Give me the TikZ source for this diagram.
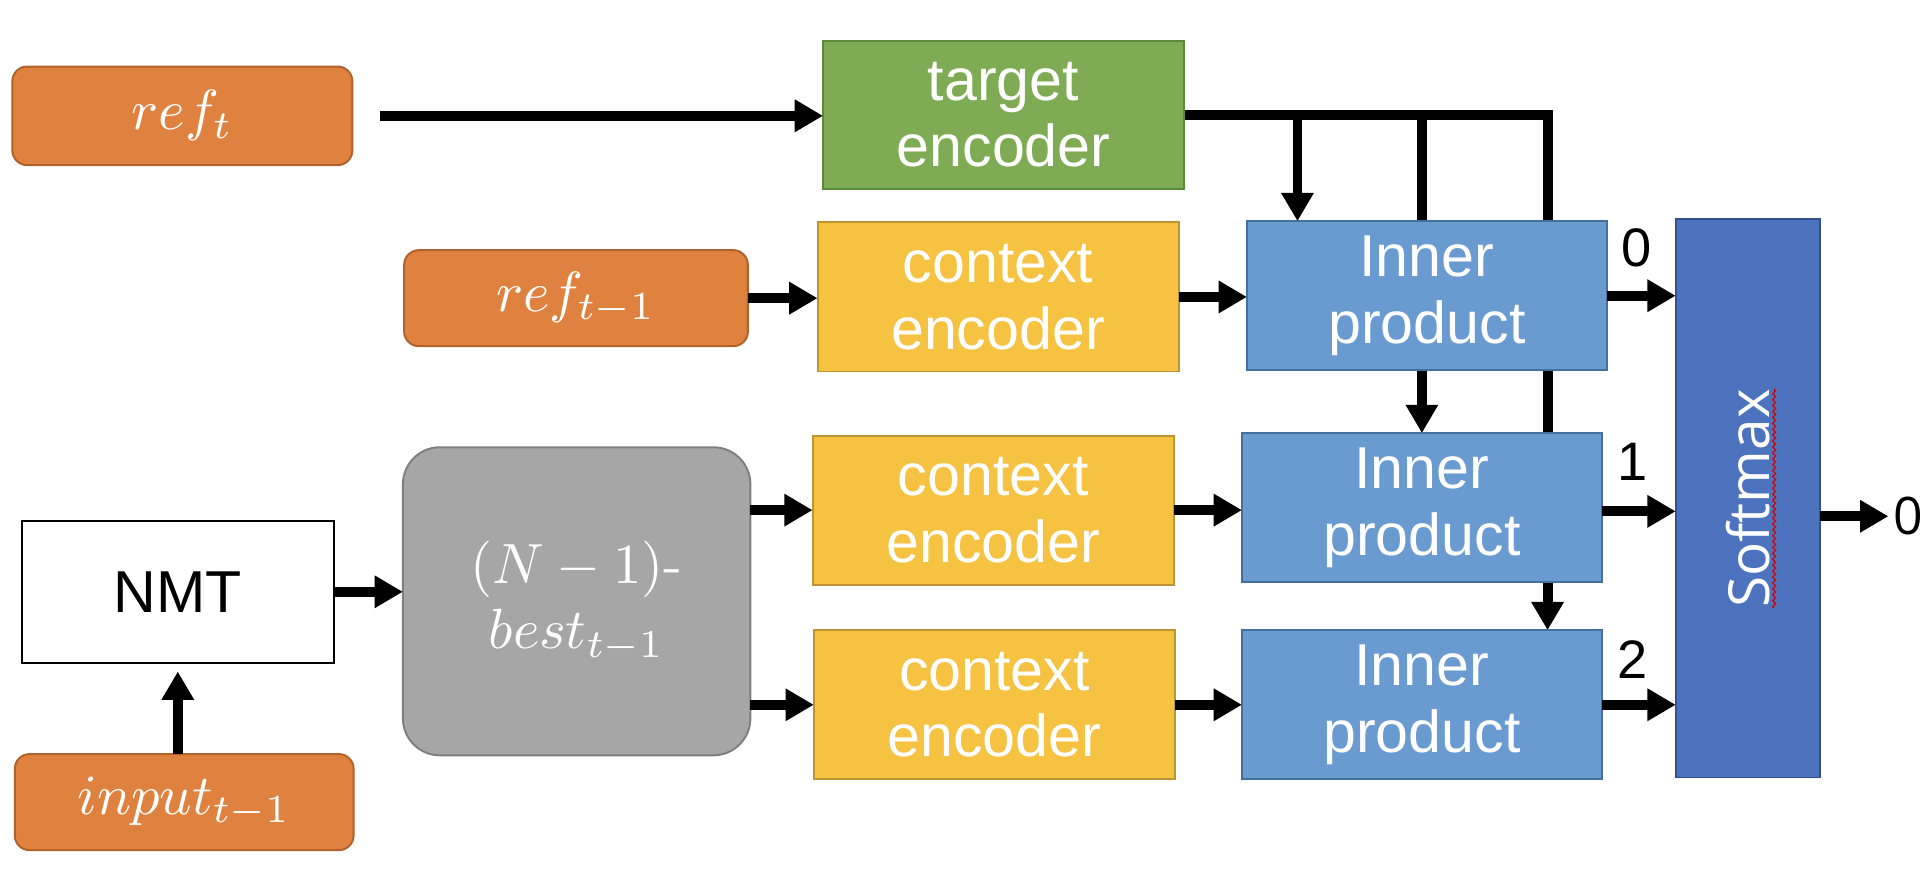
\documentclass[tikz,border=0pt]{standalone}
\usepackage{graphicx}
\usepackage{fontspec}
\newfontfamily\boxfont{Liberation Sans}
\newfontfamily\smfont{Open Sans}
\usetikzlibrary{arrows.meta,decorations.pathmorphing}
\pgfdeclarelayer{bg}
\pgfsetlayers{bg,main}
\definecolor{ora}{HTML}{E0823F}
\definecolor{orad}{HTML}{B0622A}
\definecolor{grn}{HTML}{7FAB55}
\definecolor{grnd}{HTML}{5B8B3A}
\definecolor{ylw}{HTML}{F5C242}
\definecolor{ylwd}{HTML}{BC9432}
\definecolor{lbl}{HTML}{6A9BD0}
\definecolor{lbld}{HTML}{45709E}
\definecolor{smb}{HTML}{4D73BE}
\definecolor{smbd}{HTML}{2F528F}
\definecolor{gry}{HTML}{A6A6A6}
\definecolor{gryd}{HTML}{7F7F7F}
\newcommand{\mybigmath}[1]{\scalebox{2.3}{#1}}
\begin{document}
\begin{tikzpicture}[x=0.5pt,y=-0.5pt,
  blk/.style={draw, line width=0.8pt, inner sep=0pt, outer sep=0pt, align=center,
    text=white, font=\boxfont\fontsize{24}{27}\selectfont},
  mathbox/.style={blk, font=\fontsize{10}{26.5}\selectfont},
  inbox/.style={mathbox, fill=ora, draw=orad, rounded corners=6pt},
  encbox/.style={blk, minimum width=146.5pt, minimum height=60.5pt},
  ctxbox/.style={encbox, fill=ylw, draw=ylwd},
  ipbox/.style={encbox, minimum width=146pt, fill=lbl, draw=lbld},
  arr/.style={line width=4pt, line join=miter, -{Triangle[length=11.5pt,width=12.5pt]}},
  numlbl/.style={font=\boxfont\fontsize{22}{26}\selectfont, inner sep=0pt}
]
\begin{pgfonlayer}{bg}
\fill[white] (0,0) rectangle (1568,722);
\end{pgfonlayer}
\useasboundingbox (0,0) rectangle (1568,722);

% input / reference boxes
\node[inbox, minimum width=138pt, minimum height=40pt] (reft) at (148,94) {\mybigmath{$ref_t$}};
\node[inbox, minimum width=139.5pt, minimum height=39pt] (refm) at (467.5,242) {\mybigmath{$ref_{t-1}$}};
\node[inbox, minimum width=137.5pt, minimum height=39pt] (inp) at (149.5,651) {\mybigmath{$input_{t-1}$}};

% encoders
\node[encbox, minimum height=60pt, fill=grn, draw=grnd] (tgt) at (814.5,93) {target\\encoder};
\node[ctxbox] (ctx1) at (810,241) {context\\encoder};
\node[ctxbox] (ctx2) at (806,414) {context\\encoder};
\node[ctxbox] (ctx3) at (807,572) {context\\encoder};

% inner products
\node[ipbox] (ip1) at (1158,240) {Inner\\product};
\node[ipbox] (ip2) at (1154,412) {Inner\\product};
\node[ipbox] (ip3) at (1154,572) {Inner\\product};

% softmax
\node[blk, fill=smb, draw=smbd, minimum width=58.5pt, minimum height=226.5pt] (sm) at (1418.5,404.5) {};
\node[text=white, font=\smfont\fontsize{23}{27}\selectfont, rotate=90, inner sep=0pt] (smt) at (sm.center) {Softmax};
\draw[red!85!black, line width=0.5pt, decorate, decoration={zigzag, segment length=2.4pt, amplitude=0.6pt}]
  ([xshift=2pt]smt.base west) -- ([xshift=2pt]smt.base east);

% NMT and n-best
\node[blk, fill=white, draw=black, text=black, minimum width=126.7pt, minimum height=57.7pt] (nmt) at (144.3,480.3) {NMT};
\node[mathbox, fill=gry, draw=gryd, rounded corners=15pt, minimum width=141pt, minimum height=125pt] (best) at (468,488)
  {\mybigmath{$(N-1)$-}\\\mybigmath{$best_{t-1}$}};

% labels
\node[numlbl] (l0) at ([xshift=12pt,yshift=-11pt]ip1.north east) {0};
\node[numlbl] (l1) at ([xshift=12.5pt,yshift=-11.75pt]ip2.north east) {1};
\node[numlbl] (l2) at ([xshift=12.5pt,yshift=-11.75pt]ip3.north east) {2};
\node[font=\smfont\fontsize{21}{25}\selectfont, inner sep=2pt] (out0) at (1549,419) {0};

% vertical distribution lines from the target encoder (behind boxes)
\coordinate (vx1) at (1053,0);
\coordinate (vx2) at (1154,0);
\coordinate (vx3) at (1256,0);
\begin{pgfonlayer}{bg}
\draw[arr] (tgt.east) -- (tgt.east -| vx3) -- (vx3 |- ip3.north);
\draw[arr] (tgt.east -| vx2) -- (vx2 |- ip2.north);
\draw[arr] (tgt.east -| vx1) -- (vx1 |- ip1.north);
\end{pgfonlayer}

% connectors
\draw[arr] ([xshift=11pt]reft.east) -- (reft.east -| tgt.west);
\draw[arr] (refm.east) -- (refm.east -| ctx1.west);
\draw[arr] (ctx1.east) -- (ctx1.east -| ip1.west);
\draw[arr] (ctx2.east) -- (ctx2.east -| ip2.west);
\draw[arr] (ctx3.east) -- (ctx3.east -| ip3.west);
\draw[arr] (ip1.east) -- (ip1.east -| sm.west);
\draw[arr] ([yshift=-1.5pt]ip2.east) -- ([yshift=-1.5pt]ip2.east -| sm.west);
\draw[arr] (ip3.east) -- (ip3.east -| sm.west);
\draw[arr] (sm.east |- out0) -- (out0.west);
\draw[arr] (nmt.east) -- (nmt.east -| best.west);
\draw[arr] (best.east |- ctx2.west) -- (ctx2.west);
\draw[arr] (best.east |- ctx3.west) -- (ctx3.west);
\draw[arr] (nmt.south |- inp.north) -- ([yshift=-3.5pt]nmt.south);
\end{tikzpicture}
\end{document}
